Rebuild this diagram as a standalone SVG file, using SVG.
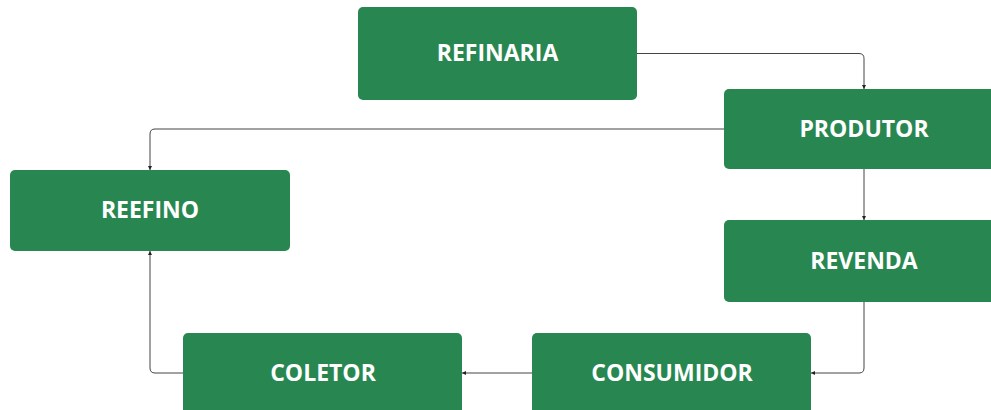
<svg xmlns="http://www.w3.org/2000/svg" width="991" height="410" viewBox="0 0 991 410">
<style>
.n{fill:#288751;}
.t{fill:#fff;font-family:"Open Sans","Liberation Sans",sans-serif;font-weight:bold;font-size:23px;text-anchor:middle;}
.c{fill:none;stroke:#444;stroke-width:1;}
</style>
<defs>
<marker id="a" viewBox="0 0 6 6" refX="6" refY="3" markerWidth="4" markerHeight="4" orient="auto" markerUnits="userSpaceOnUse">
<path d="M0,0 L6,3 L0,6 z" fill="#222"/>
</marker>
</defs>
<rect width="991" height="410" fill="#fff"/>
<g id="connectors">
<path class="c" marker-end="url(#a)" d="M637,53.5 H859 Q864,53.5 864,58.5 V89"/>
<path class="c" marker-end="url(#a)" d="M724,129 H155 Q150,129 150,134 V170"/>
<path class="c" marker-end="url(#a)" d="M864,169 V220"/>
<path class="c" marker-end="url(#a)" d="M864,302 V368 Q864,373 859,373 H811"/>
<path class="c" marker-end="url(#a)" d="M532,373 H462"/>
<path class="c" marker-end="url(#a)" d="M183,373 H155 Q150,373 150,368 V251"/>
</g>
<g id="refinaria"><rect class="n" x="358" y="7" width="279" height="93" rx="5"/><text class="t" x="497.5" y="61">REFINARIA</text></g>
<g id="produtor"><rect class="n" x="724" y="89" width="280" height="80" rx="5"/><text class="t" x="864" y="137">PRODUTOR</text></g>
<g id="reefino"><rect class="n" x="10" y="170" width="280" height="81" rx="5"/><text class="t" x="150" y="218">REEFINO</text></g>
<g id="revenda"><rect class="n" x="724" y="220" width="280" height="82" rx="5"/><text class="t" x="864" y="269">REVENDA</text></g>
<g id="coletor"><rect class="n" x="183" y="333" width="279" height="82" rx="5"/><text class="t" x="323" y="381">COLETOR</text></g>
<g id="consumidor"><rect class="n" x="532" y="333" width="279" height="82" rx="5"/><text class="t" x="672" y="381">CONSUMIDOR</text></g>
</svg>
